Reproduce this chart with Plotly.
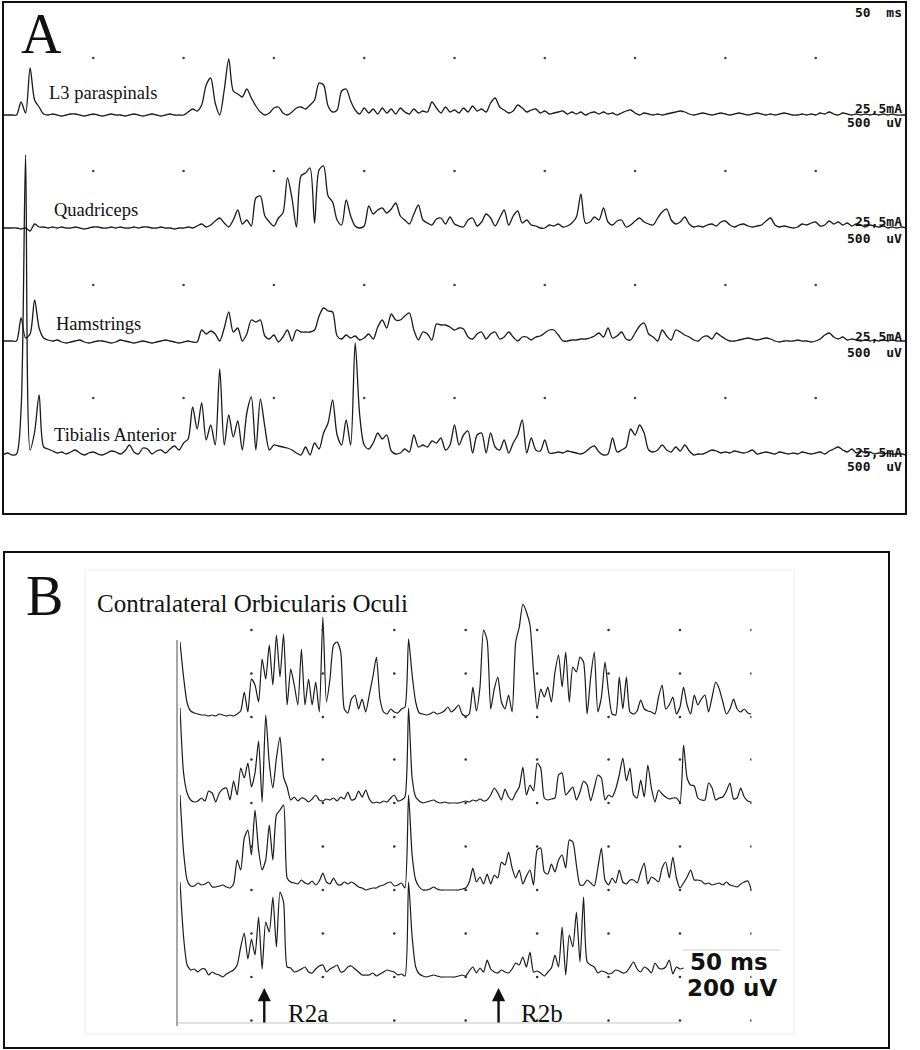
"""EMG recordings: panel A (lower-limb muscles), panel B (orbicularis oculi blink reflex)"""
import plotly.graph_objects as go

W, H = 920, 1050

# ---------------- panel A data (sample every 2.5 ms, 0-500 ms) ----------------
A_STEP_MS = 2.5
A_LABELS = ["L3 paraspinals", "Quadriceps", "Hamstrings", "Tibialis Anterior"]

L3_PARASPINALS = [
    0, 0, 0, 0, 13, 2, 47, 15, 8, 1,
    0, 1, 0, -1, 0, 1, 1, 0, -1, 0, 1, 0, -1, 0, 1, 0, 0, -1, 0, 1, 0, -1, 0, 1, 0, -1, 0, 1, 0, 0,
    0, 3, 6, 4, 10, 30, 37, 12, 0, 25, 56, 24, 21, 18, 26, 17, 9, 3, 0, 2,
    7, 8, 2, 0, 3, 7, 8, 6, 10, 15, 32, 30, 9, 3, 5, 24, 26, 14, 5, 1,
    7, 2, 6, 1, 7, 2, 6, 1, 7, 3, 1, 6, 2, 4, 3, 13, 7, 2, 8, 3, 5, 2,
    7, 3, 9, 4, 6, 3, 12, 17, 8, 5, 2, 4, 10, 7, 3, 5, 6, 2,
    4, 1, 2, 3, 4, 1, 3, 1, 3, 0, 2, 3, 1, 3, 1, 2, 0, 2, 4, 5, 2, 0, 2, 1, 0, 1, 0, 1, 2, 3,
    4, 3, 1, 0, 1, 2, 1, 0, 1, 2, 1, 0, 1, 2, 1, 0, 1, 2, 1, 0,
    1, 0, 1, 2, 1, 0, 0, 1, 0, 1, 0, 2, 1, 3, 1, 0, 2, 1, 0, 1,
    0, 1, 0, 1, 0, 1, 0, 1, 0, 0, 0,
]
QUADRICEPS = [
    0, 0, 0, 0, -1, 0, -3, 4, 1, 1,
    0, 1, 0, 1, 0, 0, 1, 0, -1, 0, 1, 1, 0, 0, 1, 0, 1, 0, 0, 1, 0, 1, 1, 0, 0, 1, 0, 0, -1, 0, 0,
    1, 0, 2, 4, 1, 3, 7, 10, 5, 1,
    8, 18, 4, 8, 2, 30, 32, 12, 6, 2,
    10, 15, 50, 30, 1, 52, 55, 60, 5, 58,
    62, 32, 26, 8, 3, 28, 12, 2, 0, 2,
    22, 14, 18, 20, 15, 19, 25, 12, 8, 4,
    14, 23, 8, 5, 3, 9, 10, 4, 11, 4,
    2,
    1, 8, 10, 2, 6, 14, 10, 2, 10, 18,
    3, 12, 17, 5, 8, 3, 2, 0, 0, 3,
    2, 4, 1, 2, 5, 11, 34, 5, 6, 11,
    8, 20, 6, 3, 7, 8, 1, 3, 7, 10,
    6, 4, 3, 10, 16, 19, 8, 4, 6, 11,
    4, 1, 2, 1, 3, 4, 2, 6, 7, 3,
    1, 3, 4, 2, 1, 2, 3, 7, 10, 3,
    1, 2, 1, 0, 1, 4, 3, 5, 6, 2,
    3, 7, 4, 6, 3, 5, 2, 4, 3, 1,
    3, 2, 1, 2, 0, 1, 0, 1, 0,
]
HAMSTRINGS = [
    1, 1, 1, 1, 24, 4, 8, 42, 14, 4, 2,
    1, 2, 0, -1, 0, 1, 2, 0, -1, 0, 1, 1, 0, -1, 0, 2, 1, 0, -1, 0, 1, 0, -1, 0, 1, 2, 1, 0, -1, 0, 1, 0, 0,
    12, 8, 11, 8, 1, 14, 30, 10, 14, 1,
    8, 22, 20, 22, 6, 3, 7, 0, 5, 12,
    1, 12, 10, 10, 10, 12, 26, 34, 31, 30,
    6, 3, 7, 4, 6, 2, 4, 8, 3, 15,
    22, 14, 28, 22, 22, 26, 29, 12, 2, 10,
    8, 2, 18, 17, 17, 15, 12, 14,
    13, 5, 3, 8, 10, 3, 8, 10, 3, 5,
    10, 5, 1, 5, 5, 2, 5, 6, 9, 12,
    12, 7, 1, 1, 2, 2, 3, 3, 4, 6,
    9, 5, 14, 4, 6, 10, 3, 2, 9, 16,
    19, 8, 5, 1, 12, 6, 2, 12, 10, 7,
    5, 2, 1, 5, 6, 3, 9, 6, 3, 1,
    1, 2, 3, 4, 3, 2, 3, 4, 3, 1,
    0, 1, 1, 1, 2, 1, 1, 0, 1, 3,
    7, 9, 5, 3, 5, 2, 3, 2, 1, 2,
    1, 2, 1, 2, 1, 2, 1, 1, 1,
]
TIBIALIS_ANTERIOR = [
    0, 2, 0, 1, 45, 300, 5, 23, 60, 8, 6, 4, 2,
    3, 1, 3, 5, 2, 0, 2, 3, 1, 0, 2, 4, 3, 1, 4, 10, 3, 1, 7, 6, 1, 4, 5, 2, 6, 9, 5,
    12, 16, 48, 26, 52, 15, 30, 10, 86, 10,
    40, 18, 34, 5, 42, 58, 5, 56, 28, 5,
    10, 9, 8, 7, 5, 2, 0, 8, 0, 12,
    6, 22, 32, 55, 20, 10, 35, 10, 112, 40,
    10, 6, 12, 22, 16, 20, 4, 1, 2, 6,
    3, 20, 8, 10, 8, 14, 12, 17, 5, 10,
    30, 10,
    20, 24, 2, 20, 22, 2, 22, 8, 5, 15,
    2, 12, 20, 35, 2, 17, 5, 4, 15, 2,
    2, 3, 2, 4, 3, 2, 1, 3, 7, 9,
    3, 0, 1, 17, 3, 5, 8, 26, 20, 30,
    22, 5, 3, 5, 10, 5, 3, 8, 4, 10,
    4, 0, 1, 1, 3, 5, 4, 2, 3, 2,
    4, 3, 2, 3, 5, 1, 2, 3, 2, 1,
    3, 2, 1, 2, 1, 3, 2, 1, 2, 3,
    1, 4, 6, 8, 5, 3, 6, 2, 4, 2,
    3, 1, 2, 1, 2, 1, 1, 1, 0,
]
A_GRID_MS = [50, 100, 150, 200, 250, 300, 350, 400, 450]

# ---------------- panel B data (sample every 2.5 ms, 0-400 ms) ----------------
B_STEP_MS = 2.5
SWEEP_1 = [
    75, 40, 14, 6, 4, 3, 2, 2, 1, 2, 1, 3, 2, 1, 2, 1, 3, 6,
    25, 5, 38, 32, 15, 58, 38, 72, 32, 82,
    40, 83, 12, 48, 32, 12, 68, 12, 38, 12,
    35, 5, 100, 15, 38, 72, 75, 65, 8, 4,
    18, 22, 8, 18, 5, 22, 40, 60, 18, 5,
    3, 8, 5, 4, 8, 10,
    78, 42, 15, 4, 3, 2, 3, 5, 3, 4, 6, 10, 5, 8, 12,
    3, 1, 3, 30, 6, 30, 87, 77, 8, 28,
    40, 15, 8, 22, 5, 75, 90, 113, 105, 92,
    45, 8, 28, 20, 30, 15, 45, 62, 30, 65,
    15, 50, 45, 60, 55, 3, 40, 65, 5, 20,
    55, 25, 3, 2, 40, 8, 40, 5, 3, 6,
    17, 8, 6, 5, 3, 20, 32, 8, 12, 20,
    3, 10, 30, 12, 3, 22, 12, 18, 22, 5,
    20, 35, 28, 15, 3, 8, 18, 8, 5, 8,
    4, 3,
]
SWEEP_2 = [
    95, 30, 10, 3, 1, 2, 5, 2, 12, 10, 1, 10, 14, 15, 3, 22, 8, 35, 25, 40, 16, 30, 62, 1,
    88, 40, 15, 45, 66, 26, 16, 3, 6, 2,
    5, 4, 1, 4, 8, 3, 2, 4, 3, 5,
    2, 6, 4, 11, 3, 4, 12, 6, 13, 4,
    0, 1, 0, 2, 1, 5, 8, 2, 3, 6,
    95, 25, 6, 2, 0, 1, 2, 3, 1, 0,
    1, 0, 0, 0, 0, 1, 2, 1, 3, 2,
    4, 2, 3, 8, 15, 10, 3, 14, 6, 3,
    10, 16, 36, 8, 18, 12, 40,
    35, 5, 3, 4, 5, 28, 30, 8, 12, 16,
    3, 11, 22, 18, 2, 15, 28, 25, 3, 8,
    6, 14, 28, 45, 22, 35, 8, 5, 23, 6,
    38, 15, 1, 13, 9, 6, 4, 5, 5, 1,
    58, 25, 18, 17, 5, 3, 3, 20, 15, 3,
    5, 6, 12, 20, 4, 5, 15, 6, 2, 1,
]
SWEEP_3 = [
    95, 38, 10, 4, 4, 7, 5, 6, 8, 3, 3, 4, 5, 3, 2, 6, 30, 20, 52, 60,
    35, 80, 40, 20, 30, 65, 30, 75, 80, 85,
    12, 8, 7, 6, 10, 7, 6, 9, 5, 9,
    17, 8, 6, 12, 6, 5, 8, 6, 8, 6,
    3, 2, 0, 1, 2, 2, 4, 5, 7, 8,
    4, 5, 7, 2,
    95, 35, 10, 3, 0, 0, 1, 3, 1, 0,
    0, 0, 0, 0, 0, 1, 2, 8, 22, 8,
    13, 6, 16, 6, 15, 12, 28, 25, 38, 22,
    12, 20, 6, 14, 20, 5, 40,
    42, 18, 16, 26, 18, 30, 35, 22, 50, 48,
    25, 5, 5, 10, 7, 4, 22, 42, 10, 5,
    12, 7, 20, 8, 6, 10, 10, 7, 18, 27,
    6, 13, 11, 8, 22, 28, 12, 33, 12, 2,
    7, 13, 20, 10, 10, 9, 6, 7, 5, 6,
    7, 5, 8, 5, 4, 3, 6, 8, 9, 0,
]
SWEEP_4 = [
    95, 40, 12, 7, 8, 5, 8, 8, 2, 5, 3, 2, 0, 3, 5, 7, 12, 30, 44, 18,
    38, 22, 60, 8, 55, 45, 80, 30, 85, 75,
    10, 9, 5, 6, 8, 10, 5, 4, 8, 11,
    12, 5, 8, 10, 12, 5, 6, 10, 11, 8,
    5, 2, 2, 2, 4, 1, 3, 5, 7, 6,
    5, 2, 3, 1,
    95, 40, 10, 3, 1, 0, 1, 2, 1, 0,
    0, 0, 0, 0, 1, 2, 1, 6, 10, 4,
    9, 5, 17, 8, 5, 4, 7, 5, 4, 8,
    14, 12, 20, 10, 25, 5, 6,
    4, 1, 5, 9, 22, 10, 50, 2, 42, 30,
    65, 15, 80, 15, 12, 10, 4, 6, 5, 3,
    4, 7, 6, 4, 5, 10, 15, 8, 5, 10,
    8, 4, 14, 9, 8, 10, 17, 3, 10, 8,
    9,
]
B_GRID_MS = [50, 100, 150, 200, 250, 300, 350, 400]
R2A_MS, R2B_MS = 59, 223

# ---------------- layout geometry (pixels) ----------------
A_FRAME = (3, 2, 906, 514)           # x0, y0, x1, y1
A_BASE = [115, 228, 342, 455]
A_HALF_DIV = 57
B_FRAME = (4, 552, 889, 1048)
B_X = (180, 751.4)
B_BASE = [717, 803, 890, 977]
B_HALF_DIV = 43.5
B_GRID_ROWS = [[0, 1, 2], [0, 1], [0, 1], [-1, 0, 1]]

TRACE_COLOR = "#1a1a1a"
SERIF = "Liberation Serif, Times New Roman, serif"
MONO = "DejaVu Sans Mono, monospace"
SANS = "DejaVu Sans, sans-serif"


def fx(px):
    return px / W


def fy(py):
    return 1 - py / H


fig = go.Figure()
layout = dict(
    width=W, height=H, margin=dict(l=0, r=0, t=0, b=0),
    paper_bgcolor="white", plot_bgcolor="rgba(0,0,0,0)", showlegend=False,
    xaxis=dict(domain=[fx(A_FRAME[0]), fx(A_FRAME[2])], range=[0, 500], visible=False, fixedrange=True),
    xaxis2=dict(domain=[fx(B_X[0]), fx(B_X[1])], range=[0, 400], visible=False, fixedrange=True),
)

a_series = [L3_PARASPINALS, QUADRICEPS, HAMSTRINGS, TIBIALIS_ANTERIOR]
for k, (vals, yb) in enumerate(zip(a_series, A_BASE)):
    ax = f"y{k + 1}" if k else "y"
    spec = dict(domain=[fy(A_FRAME[3]), fy(A_FRAME[1])],
                range=[-(A_FRAME[3] - yb), yb - A_FRAME[1]],
                visible=False, fixedrange=True, anchor="x")
    if k:
        spec["overlaying"] = "y"
    layout["yaxis" + (str(k + 1) if k else "")] = spec
    t = [i * A_STEP_MS for i in range(len(vals))]
    fig.add_trace(go.Scatter(x=t, y=vals, mode="lines", xaxis="x", yaxis=ax,
                             line=dict(color=TRACE_COLOR, width=1.3, shape="spline", smoothing=0.8),
                             hoverinfo="skip"))
    fig.add_trace(go.Scatter(x=A_GRID_MS, y=[A_HALF_DIV] * len(A_GRID_MS), mode="markers",
                             xaxis="x", yaxis=ax, hoverinfo="skip",
                             marker=dict(size=2.6, color="#444")))

b_series = [SWEEP_1, SWEEP_2, SWEEP_3, SWEEP_4]
for k, (vals, yb) in enumerate(zip(b_series, B_BASE)):
    n = k + 5
    ax = f"y{n}"
    spec = dict(domain=[fy(B_FRAME[3]), fy(B_FRAME[1])],
                range=[-(B_FRAME[3] - yb), yb - B_FRAME[1]],
                visible=False, fixedrange=True, anchor="x2")
    if k:
        spec["overlaying"] = "y5"
    layout[f"yaxis{n}"] = spec
    t = [j * B_STEP_MS for j in range(len(vals))]
    fig.add_trace(go.Scatter(x=t, y=vals, mode="lines", xaxis="x2", yaxis=ax,
                             line=dict(color=TRACE_COLOR, width=1.2, shape="spline", smoothing=0.6),
                             hoverinfo="skip"))
    gx, gy = [], []
    for r in B_GRID_ROWS[k]:
        gx += B_GRID_MS
        gy += [r * B_HALF_DIV] * len(B_GRID_MS)
    fig.add_trace(go.Scatter(x=gx, y=gy, mode="markers", xaxis="x2", yaxis=ax,
                             hoverinfo="skip", marker=dict(size=2.6, color="#333")))

# frames and faint scan edges
shapes = [
    dict(type="rect", xref="paper", yref="paper",
         x0=fx(A_FRAME[0]), x1=fx(A_FRAME[2]), y0=fy(A_FRAME[3]), y1=fy(A_FRAME[1]),
         line=dict(color="#111", width=2)),
    dict(type="rect", xref="paper", yref="paper",
         x0=fx(B_FRAME[0]), x1=fx(B_FRAME[2]), y0=fy(B_FRAME[3]), y1=fy(B_FRAME[1]),
         line=dict(color="#111", width=2)),
    dict(type="rect", xref="paper", yref="paper",
         x0=fx(85), x1=fx(794), y0=fy(1034), y1=fy(570),
         line=dict(color="#ececec", width=1)),
    dict(type="line", xref="paper", yref="paper",
         x0=fx(177), x1=fx(177), y0=fy(1026), y1=fy(640),
         line=dict(color="#8a8a8a", width=1.5)),
    dict(type="line", xref="paper", yref="paper",
         x0=fx(178), x1=fx(680), y0=fy(1023), y1=fy(1023),
         line=dict(color="#e2e2e2", width=2)),
    dict(type="line", xref="paper", yref="paper",
         x0=fx(683), x1=fx(780), y0=fy(950), y1=fy(950),
         line=dict(color="#dddddd", width=1.5)),
]
layout["shapes"] = shapes


def text(s, x, y, size, family=SERIF, anchor="left", color="#111", bold=False):
    if bold:
        s = f"<b>{s}</b>"
    return dict(text=s, xref="paper", yref="paper", x=fx(x), y=fy(y),
                xanchor=anchor, yanchor="middle", showarrow=False,
                font=dict(family=family, size=size, color=color))


ann = [
    text("A", 41, 34, 56, anchor="center"),
    text("50  ms", 904, 12, 13, family=MONO, anchor="right", bold=True),
    text("B", 44, 596, 56, anchor="center"),
    text("Contralateral Orbicularis Oculi", 95, 603, 25),
    text("R2a", 286, 1013, 25),
    text("R2b", 519, 1013, 25),
    text("50 ms", 688, 962, 23, family=SANS, bold=True),
    text("200 uV", 685, 988, 23, family=SANS, bold=True),
]
label_pos = [(47, 93), (52, 210), (54, 324), (52, 435)]
for lab, (lx, ly) in zip(A_LABELS, label_pos):
    ann.append(text(lab, lx, ly, 18.5))
cal_pos = [(108, 123), (221, 238), (337, 352), (452, 466)]
for y1, y2 in cal_pos:
    ann.append(text("25,5mA", 904, y1, 13, family=MONO, anchor="right", bold=True))
    ann.append(text("500  uV", 904, y2, 13, family=MONO, anchor="right", bold=True))

for ms in (R2A_MS, R2B_MS):
    ann.append(dict(x=ms, y=fy(988), xref="x2", yref="paper", text="",
                    showarrow=True, ax=0, ay=36, axref="pixel", ayref="pixel",
                    arrowhead=2, arrowsize=1.1, arrowwidth=2.4, arrowcolor="#111"))
layout["annotations"] = ann

fig.update_layout(**layout)
fig.write_html("out.html", config={"displayModeBar": False},
               post_script="document.body.style.margin='0';")
